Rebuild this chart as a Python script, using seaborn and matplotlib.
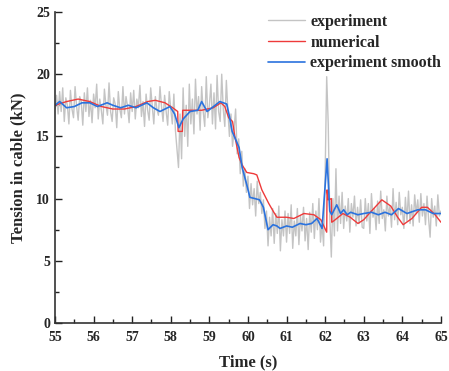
import numpy as np
import pandas as pd
import matplotlib
matplotlib.use("Agg")
import matplotlib.pyplot as plt
import seaborn as sns
from matplotlib.ticker import MultipleLocator

# ---- data ----
exp_start, exp_step = 55.0, 0.04
exp_values = [
    # 55.00 - 56.96
    17.2, 18.3, 16.8, 18.6, 17.0, 18.9, 16.2, 18.1, 17.5, 16.0, 18.7, 17.2, 16.5, 19.0, 17.4, 16.3, 18.2,
    17.8, 15.9, 18.5, 17.0, 18.9, 16.6, 17.9, 16.1, 18.4, 17.3, 19.2, 16.4, 18.0, 17.1, 16.0, 18.8, 17.5,
    16.7, 19.3, 17.0, 16.2, 18.1, 17.6, 15.7, 18.6, 17.2, 16.5, 19.0, 16.8, 18.2, 17.4, 16.1, 18.5,
    # 57.00 - 58.96
    17.0, 18.7, 16.4, 18.0, 17.3, 19.1, 16.6, 17.8, 15.8, 18.4, 17.1, 16.3, 18.9, 17.5, 16.0, 18.2, 17.2,
    16.7, 19.0, 17.4, 16.2, 18.3, 17.0, 15.9, 18.6,
    17.2, 16.0, 18.4, 15.5, 14.0, 12.5, 16.8, 13.2, 18.9, 15.0, 17.5, 14.2, 19.2, 16.0, 18.0, 15.2, 19.6,
    16.8, 18.2, 15.5, 19.0, 17.0, 15.8, 19.8, 16.5,
    # 59.00 - 60.96
    17.5, 19.2, 16.0, 18.5, 15.6, 19.9, 17.0, 16.2, 20.0, 17.2, 15.8, 19.5, 17.0, 15.0, 16.8, 14.2, 15.5,
    17.2, 13.6, 14.8, 12.0, 13.8, 11.0, 12.4, 10.5, 11.8, 9.2, 11.2, 9.5, 10.8, 8.6, 11.4, 9.6, 10.5,
    8.8, 9.9, 7.6, 9.0, 6.2, 8.5, 7.0, 9.2, 6.4, 8.8, 7.2, 9.4, 5.8, 8.3, 7.0, 9.0,
    # 61.00 - 62.96
    6.5, 8.8, 7.2, 9.5, 6.0, 8.2, 7.0, 9.2, 6.3, 8.6, 7.4, 9.3, 6.6, 8.4, 5.9, 8.9, 7.3, 9.6, 6.8, 9.0,
    7.5, 10.0, 6.5, 8.0, 6.2, 12.0, 19.8, 16.0, 8.5, 5.3, 10.0, 7.0, 12.4, 7.4, 10.2, 8.0, 10.5, 7.6,
    9.4, 8.2, 10.0, 7.3, 9.6, 8.5, 10.2, 7.8, 9.3, 8.0, 9.9, 7.7,
    # 63.00 - 65.00
    7.6, 10.0, 8.2, 9.6, 7.2, 10.4, 8.5, 9.2, 7.5, 9.8, 8.0, 10.6, 8.4, 9.1, 7.4, 10.2, 8.6, 9.4, 7.7,
    10.8, 8.3, 9.7, 7.9, 10.5, 8.7, 9.3, 7.6, 10.1, 8.2, 10.6, 8.0, 9.5, 7.8, 10.3, 8.8, 9.9, 8.1, 10.4,
    8.6, 9.6, 7.9, 10.2, 8.4, 6.9, 10.0, 8.5, 9.4, 7.8, 10.3, 8.6, 9.0,
]
exp_time = [round(exp_start + exp_step * i, 2) for i in range(len(exp_values))]

num_time = [55.0, 55.3, 55.6, 55.9, 56.2, 56.5, 56.8, 57.1, 57.4, 57.6, 57.85, 58.05, 58.18, 58.19,
            58.3, 58.31, 58.8, 59.1, 59.3, 59.4, 59.5, 59.6, 59.66, 59.77, 59.85, 59.97, 60.15, 60.23,
            60.36, 60.54, 60.67, 60.75, 61.0, 61.19, 61.45, 61.71, 61.89, 62.04, 62.05, 62.08, 62.16,
            62.17, 62.22, 62.3, 62.46, 62.65, 62.85, 63.0, 63.2, 63.47, 63.7, 63.88, 64.02, 64.25,
            64.5, 64.65, 64.85, 65.0]
num_values = [17.5, 17.8, 18.0, 17.8, 17.4, 17.2, 17.2, 17.4, 17.8, 17.9, 17.7, 17.3, 17.0, 15.4,
              15.4, 17.1, 17.1, 17.3, 17.7, 17.4, 16.5, 16.2, 15.0, 13.3, 12.7, 12.1, 12.0, 11.9,
              10.7, 9.6, 8.9, 8.5, 8.5, 8.4, 8.8, 8.7, 8.3, 7.3, 10.7, 9.9, 10.0,
              8.1, 8.2, 8.4, 8.8, 8.5, 8.0, 8.3, 9.0, 9.9, 9.4, 8.5, 7.9, 8.4,
              9.3, 9.3, 8.7, 8.1]

smooth_time = [55.0, 55.12, 55.3, 55.5, 55.7, 55.9, 56.1, 56.35, 56.5, 56.7, 56.9, 57.1, 57.38, 57.55,
               57.72, 57.98, 58.1, 58.21, 58.32, 58.5, 58.7, 58.8, 58.94, 59.15, 59.27, 59.45, 59.52,
               59.59, 59.66, 59.77, 59.85, 59.97, 60.05, 60.18, 60.3, 60.4, 60.52, 60.65, 60.75,
               60.83, 61.0, 61.15, 61.35, 61.5, 61.65, 61.79, 61.92, 62.05, 62.12, 62.17, 62.3,
               62.4, 62.48, 62.57, 62.66, 62.85, 63.0, 63.2, 63.38, 63.55, 63.72, 63.9, 64.12, 64.4,
               64.6, 64.8, 65.0]
smooth_values = [17.5, 17.8, 17.3, 17.4, 17.7, 17.7, 17.4, 17.7, 17.5, 17.3, 17.5, 17.3, 17.7, 17.3,
                 17.0, 17.4, 16.8, 15.7, 16.4, 17.0, 17.1, 17.8, 17.0, 17.5, 17.8, 17.6, 16.6,
                 15.4, 14.9, 14.1, 12.5, 11.1, 10.1, 10.0, 9.9, 9.3, 7.5, 7.9, 7.8,
                 7.6, 7.8, 7.7, 8.0, 7.9, 8.0, 8.4, 7.6, 13.2, 9.0, 8.7, 9.5,
                 8.8, 9.1, 8.7, 8.9, 8.7, 8.8, 8.9, 8.7, 8.9, 8.7, 9.2, 8.8, 9.1,
                 9.1, 8.8, 8.8]

labels = ["experiment", "numerical", "experiment smooth"]
colors = ["#c4c4c4", "#ee3a3a", "#2a72de"]

# ---- style ----
sns.set_style("ticks")
plt.rcParams["font.family"] = ["Liberation Serif", "DejaVu Serif"]
plt.rcParams["font.weight"] = "bold"

fig = plt.figure(figsize=(4.49, 3.71), dpi=100)
ax = fig.add_axes([0.1225, 0.1294, 0.982 - 0.1225, 0.9677 - 0.1294])

df_exp = pd.DataFrame({"t": exp_time, "v": exp_values})
df_num = pd.DataFrame({"t": num_time, "v": num_values})
df_sm = pd.DataFrame({"t": smooth_time, "v": smooth_values})

sns.lineplot(data=df_exp, x="t", y="v", ax=ax, color=colors[0], lw=1.0, label=labels[0],
             estimator=None, sort=False)
sns.lineplot(data=df_num, x="t", y="v", ax=ax, color=colors[1], lw=1.0, label=labels[1],
             estimator=None, sort=False)
sns.lineplot(data=df_sm, x="t", y="v", ax=ax, color=colors[2], lw=1.2, label=labels[2],
             estimator=None, sort=False)

ax.set_xlim(55, 65)
ax.set_ylim(0, 25)
ax.xaxis.set_major_locator(MultipleLocator(1))
ax.xaxis.set_minor_locator(MultipleLocator(0.5))
ax.yaxis.set_major_locator(MultipleLocator(5))
ax.yaxis.set_minor_locator(MultipleLocator(2.5))
ax.tick_params(which="both", direction="in", width=1.0, color="#222222", labelsize=10)
ax.tick_params(axis="x", which="major", pad=6)
ax.tick_params(which="major", length=5)
ax.tick_params(which="minor", length=3)
for lab in ax.get_xticklabels() + ax.get_yticklabels():
    lab.set_fontweight("bold")

for s in ["top", "right"]:
    ax.spines[s].set_visible(False)
for s in ["left", "bottom"]:
    ax.spines[s].set_linewidth(1.2)
    ax.spines[s].set_color("#333333")

ax.set_xlabel("Time (s)", fontsize=12, fontweight="bold", labelpad=7)
ax.set_ylabel("Tension in cable (kN)", fontsize=12, fontweight="bold", labelpad=7)

leg = ax.legend(loc="upper right", bbox_to_anchor=(1.025, 1.025), frameon=False,
                prop={"family": "Liberation Serif", "weight": "bold", "size": 11.5},
                handlelength=2.3, handletextpad=0.35, labelspacing=0.3, borderaxespad=0.2)

fig.savefig("out.png", dpi=100)
